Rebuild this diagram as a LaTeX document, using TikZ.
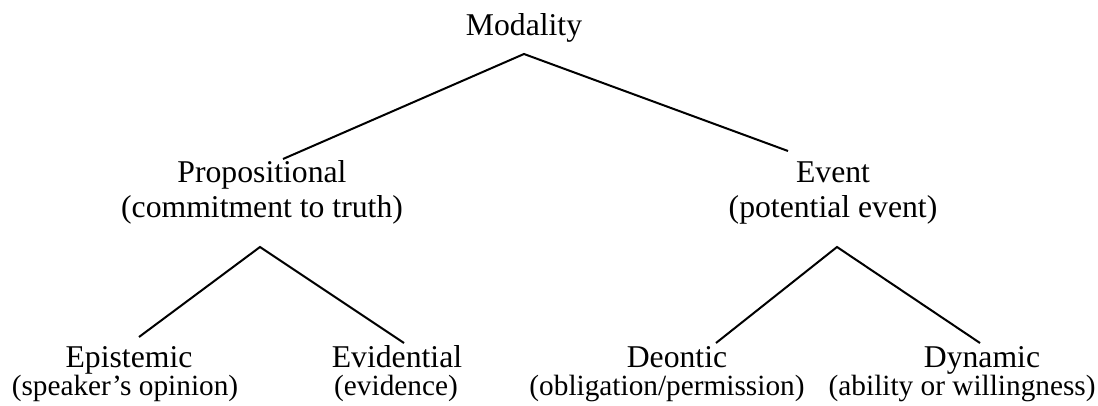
\documentclass[tikz,border=0pt]{standalone}
\usepackage{fontspec}
\setmainfont{Liberation Serif}
\begin{document}
\begin{tikzpicture}[x=0.5pt,y=-0.5pt,
  lbl/.style={inner sep=0pt, anchor=base, font=\fontsize{15.85}{19}\selectfont},
  sublbl/.style={inner sep=0pt, anchor=base, font=\fontsize{14.65}{17}\selectfont},
  edge/.style={line width=1pt, line join=miter}]
\useasboundingbox (0,0) rectangle (1098,406);
% labels
\node[lbl] (mod) at (524,36) {Modality};
\node[lbl] (prop) at (262,183) {Propositional};
\node[lbl] (propsub) at (262,218) {(commitment to truth)};
\node[lbl] (ev) at (833,183) {Event};
\node[lbl] (evsub) at (833,218) {(potential event)};
\node[lbl] (epi) at (129,367) {Epistemic};
\node[sublbl] (episub) at (125,395) {(speaker’s opinion)};
\node[lbl] (evid) at (397,367) {Evidential};
\node[sublbl] (evidsub) at (396,395) {(evidence)};
\node[lbl] (deon) at (677,367) {Deontic};
\node[sublbl] (deonsub) at (667,395) {(obligation/permission)};
\node[lbl] (dyn) at (982,367) {Dynamic};
\node[sublbl, anchor=base east] (dynsub) at (1096,395) {(ability or willingness)};
% junction points
\coordinate (modj) at (524,54);
\coordinate (propj) at (283,159);
\coordinate (evj) at (788,151);
\coordinate (propk) at (260,247);
\coordinate (epij) at (139,337);
\coordinate (evidj) at (404,343);
\coordinate (evk) at (837,247);
\coordinate (deonj) at (716,343);
\coordinate (dynj) at (980,343);
% connectors
\draw[edge] (propj) -- (modj) -- (evj);
\draw[edge] (epij) -- (propk) -- (evidj);
\draw[edge] (deonj) -- (evk) -- (dynj);
\end{tikzpicture}
\end{document}
